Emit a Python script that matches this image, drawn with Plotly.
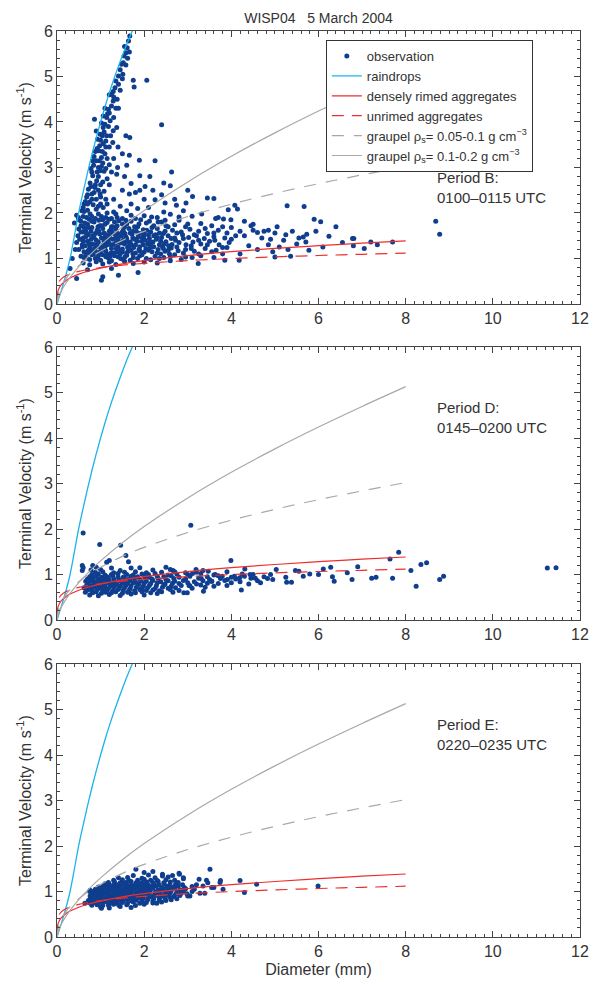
import plotly.graph_objects as go

# ---------------- theoretical curves ----------------
rain_d = [0, 0.1, 0.2, 0.3, 0.4, 0.5, 0.6, 0.7, 0.8, 0.9, 1.0, 1.1, 1.2, 1.3, 1.4, 1.5, 1.6, 1.7, 1.8]
rain_v = [0, 0.3, 0.62, 1.0, 1.5, 2.02, 2.46, 2.88, 3.28, 3.65, 4.0, 4.33, 4.64, 4.93, 5.2, 5.46, 5.71, 5.94, 6.16]

rimed_d = [0, 0.02, 0.05, 0.1, 0.2, 0.3, 0.5, 0.75, 1, 1.5, 2, 3, 4, 5, 6, 7, 8]
rimed_v = [0, 0.275, 0.352, 0.424, 0.511, 0.571, 0.655, 0.731, 0.79, 0.882, 0.953, 1.063, 1.149, 1.22, 1.281, 1.336, 1.385]

unrimed_d = [0.05, 0.1, 0.2, 0.3, 0.5, 0.75, 1, 1.5, 2, 3, 4, 5, 6, 7, 8]
unrimed_v = [0.495, 0.553, 0.619, 0.66, 0.716, 0.764, 0.8, 0.854, 0.893, 0.954, 0.998, 1.035, 1.066, 1.092, 1.116]

graupel_lo_d = [0, 0.05, 0.1, 0.2, 0.3, 0.5, 0.75, 1, 1.5, 2, 3, 4, 5, 6, 7, 8]
graupel_lo_v = [0, 0.292, 0.402, 0.553, 0.667, 0.843, 1.016, 1.16, 1.398, 1.595, 1.923, 2.193, 2.432, 2.644, 2.838, 3.02]

graupel_hi_d = [0, 0.05, 0.1, 0.2, 0.3, 0.5, 0.75, 1, 1.5, 2, 3, 4, 5, 6, 7, 8]
graupel_hi_v = [0, 0.18, 0.284, 0.449, 0.587, 0.823, 1.075, 1.3, 1.699, 2.054, 2.683, 3.247, 3.761, 4.241, 4.694, 5.129]

# ---------------- observations: (diameter mm, velocity m/s) ----------------
obs_b = [
    (1.67,5.89),(1.64,5.78),(1.61,5.63),(1.58,5.52),(1.66,5.54),(1.54,5.45),(1.55,5.66),(1.48,5.27),(1.45,5.15),(1.51,5.05),
    (1.41,5.01),(1.35,4.9),(1.41,4.83),(1.33,4.75),(1.2,4.6),(1.29,4.67),(1.25,4.61),(1.38,4.5),(1.29,4.46),(1.1,4.3),
    (1.25,4.35),(1.18,4.28),(1.16,4.18),(1.06,4.13),(1.14,4.1),(1.02,3.98),(1.22,4.03),(0.86,4.06),(1.37,3.88),(1.29,3.81),
    (1.06,3.88),(1.18,3.9),(0.99,3.73),(1.08,3.78),(1.14,3.7),(0.93,3.62),(1.12,3.58),(1.06,3.52),(0.98,3.48),(1.2,3.45),
    (0.92,3.42),(0.96,3.37),(1.1,3.3),(0.85,3.24),(1.02,3.22),(0.9,3.15),(1.05,3.1),(0.84,3.05),(0.95,3.0),(1.12,2.98),
    (0.8,2.9),(0.99,2.93),(0.82,2.82),(0.95,2.8),(0.91,2.71),(1.05,2.68),(0.76,2.66),(0.87,2.56),(0.72,2.52),(0.95,2.5),
    (0.8,2.42),(0.99,2.42),(0.68,2.35),(0.9,2.3),(1.12,2.3),(0.75,2.24),(0.83,2.18),(0.62,2.2),(1.0,2.2),(1.06,2.12),
    (0.57,2.05),(0.7,2.06),(0.76,1.98),(0.49,1.9),(0.9,2.08),
    (0.9,3.8),(1.0,3.6),(0.88,3.35),(0.82,3.15),(0.78,2.98),(1.08,2.92),(0.88,2.62),(1.0,2.62),(0.7,2.4),(0.85,2.45),
    (1.08,2.48),(0.65,2.25),(0.8,2.3),(0.95,2.15),(0.6,2.12),(0.7,2.2),(1.15,2.2),(1.0,2.35),(0.78,2.58),(0.92,2.9),
    (1.02,3.02),(0.97,3.15),(1.15,3.2),(1.04,3.35),(1.12,3.45),(1.04,3.7),(1.1,3.95),(1.2,4.2),(1.3,4.55),(1.35,4.3),
    (1.45,4.7),(1.5,4.95),(1.58,5.25),(1.62,5.4),(1.52,5.3),(1.3,4.1),(1.23,3.7),(1.28,3.55),(1.4,3.45),(1.5,3.3),
    (1.3,3.2),(1.25,2.9),(1.55,2.8),(1.15,2.75),(1.6,3.05),(1.9,2.5),(2.0,2.3),(2.2,2.5),(1.7,2.65),(1.85,2.1),
    (2.4,2.4),(2.6,2.6),(2.7,2.3),(3.0,2.5),
    (1.75,4.92),(1.77,4.77),(2.06,4.92),(2.4,3.94),(1.41,4.3),(1.58,3.7),(1.67,3.66),(1.66,3.27),(1.89,3.16),(2.25,3.15),
    (2.63,2.9),(1.39,3.0),(1.2,3.06),(1.37,2.85),(1.9,2.82),(2.13,2.8),(2.45,2.66),(1.66,2.42),(2.02,2.58),(1.2,2.62),
    (1.3,2.3),(1.5,2.5),(1.7,2.2),(1.45,2.15),(1.8,2.45),(2.25,2.29),(2.48,2.22),(2.96,2.22),(3.11,2.36),(3.45,2.33),
    (3.6,2.32),(3.32,1.98),(4.08,2.17),(4.14,2.09),(3.64,1.88),(3.82,1.87),(3.99,1.85),(2.74,2.17),(2.9,2.05),(2.8,1.91),
    (2.45,2.02),(2.17,1.91),(2.32,1.8),(2.48,1.84),(5.28,2.16),(5.67,2.14),(3.93,2.07),(1.15,2.0),(1.35,1.98),(1.6,2.05),(2.1,2.12),
    (5.9,1.86),(6.05,1.81),(5.94,1.6),(6.4,1.7),(6.24,1.49),(5.73,1.53),(5.65,1.47),(5.71,1.36),(5.78,1.18),(6.78,1.44),
    (6.81,1.44),(6.8,1.28),(7.05,1.22),(7.2,1.36),(7.7,1.36),(8.69,1.82),(8.78,1.53),
    (4.3,1.5),(4.5,1.62),(4.7,1.45),(5.0,1.56),(5.2,1.4),(5.4,1.6),(5.55,1.45),(4.4,1.28),(4.6,1.2),(4.85,1.3),
    (5.1,1.25),(5.3,1.2),(4.2,1.1),(4.75,1.6),(5.05,1.7),(4.45,1.72),(4.9,1.42),(5.5,1.32),(6.1,1.25),(6.55,1.35),
    (7.35,1.3),(4.95,1.15),(5.25,1.52),
    (0.45,0.56),(1.02,0.52),(1.05,0.6),(1.41,0.63),(1.86,0.69),(3.24,0.89),(3.85,0.96),(4.18,0.96),(5.0,1.03),(5.36,1.05),
    (0.3,0.78),(0.7,0.75),(1.25,0.78),(0.35,1.0),(0.42,1.2),
    (0.45,1.95),(0.62,2.03),(0.8,1.92),(0.95,1.98),(1.12,1.9),(1.3,2.02),(1.5,1.88),(1.7,1.95),(1.92,1.85),(2.6,1.97),
    (3.1,1.93),(3.7,1.9),(4.3,1.82),
    (0.4,1.78),(0.55,1.82),(0.7,1.75),(0.85,1.8),(0.98,1.72),(1.15,1.79),(1.28,1.7),(1.42,1.83),(1.6,1.76),(1.78,1.7),
    (2.05,1.78),(2.22,1.72),(2.4,1.8),(2.7,1.74),(2.95,1.7),(3.3,1.77),(3.55,1.72),(4.0,1.68),(4.5,1.75),
    (0.5,1.65),(0.66,1.6),(0.8,1.68),(0.92,1.62),(1.05,1.66),(1.2,1.6),(1.35,1.64),(1.5,1.58),(1.65,1.66),(1.82,1.6),
    (1.98,1.63),(2.15,1.58),(2.3,1.66),(2.48,1.6),(2.65,1.62),(2.85,1.58),(3.05,1.64),(3.25,1.6),(3.45,1.55),(3.7,1.62),
    (3.9,1.56),(4.2,1.6),(4.6,1.57),(4.85,1.62),
    (0.48,1.5),(0.6,1.45),(0.72,1.52),(0.85,1.46),(0.98,1.54),(1.1,1.47),(1.22,1.52),(1.36,1.45),(1.48,1.5),(1.6,1.44),
    (1.72,1.53),(1.86,1.47),(2.0,1.5),(2.12,1.44),(2.26,1.52),(2.4,1.46),(2.55,1.5),(2.7,1.45),(2.88,1.52),(3.02,1.46),
    (3.2,1.5),(3.38,1.44),(3.6,1.48),(3.85,1.45),(4.1,1.5),
    (0.45,1.35),(0.58,1.3),(0.7,1.38),(0.82,1.32),(0.95,1.36),(1.06,1.3),(1.18,1.37),(1.3,1.31),(1.42,1.38),(1.55,1.32),
    (1.68,1.36),(1.8,1.3),(1.94,1.38),(2.08,1.32),(2.2,1.36),(2.35,1.3),(2.5,1.37),(2.64,1.31),(2.8,1.35),(2.96,1.3),
    (3.12,1.36),(3.3,1.32),(3.5,1.38),(3.72,1.3),(3.95,1.35),
    (0.5,1.2),(0.62,1.15),(0.75,1.22),(0.88,1.16),(1.0,1.24),(1.12,1.17),(1.25,1.22),(1.38,1.15),(1.5,1.21),(1.63,1.16),
    (1.76,1.24),(1.9,1.17),(2.04,1.22),(2.18,1.15),(2.32,1.2),(2.48,1.16),(2.62,1.23),(2.78,1.17),(2.95,1.2),(3.15,1.16),
    (3.4,1.22),(3.65,1.18),(3.9,1.24),
    (0.55,1.05),(0.68,1.0),(0.8,1.08),(0.93,1.02),(1.05,1.08),(1.18,1.01),(1.32,1.06),(1.46,1.0),(1.6,1.07),(1.75,1.02),
    (1.9,1.06),(2.05,1.0),(2.25,1.05),(2.45,1.02),(2.7,1.08),(2.95,1.03),(3.3,1.06),(3.6,1.02),
    (0.6,0.9),(0.75,0.86),(0.9,0.93),(1.05,0.88),(1.2,0.92),(1.35,0.87),(1.55,0.94),(1.75,0.89),(2.0,0.92),(2.3,0.9),(2.6,0.95),
    (0.65,1.28),(0.78,1.42),(0.9,1.25),(1.02,1.45),(1.15,1.3),(1.28,1.42),(1.4,1.25),(1.52,1.4),(1.65,1.27),(1.78,1.42),
    (1.9,1.26),(2.02,1.4),(2.15,1.28),(2.28,1.42),(2.42,1.26),(0.7,1.12),(0.85,1.1),(1.0,1.12),(1.15,1.1),(1.3,1.12),
    (1.45,1.1),(1.6,1.12),(1.8,1.12),(0.72,1.68),(0.88,1.55),(1.02,1.72),(1.25,1.7),(1.4,1.55),(1.55,1.7),(0.6,1.58),
    (0.55,1.72),(0.68,1.9),(1.05,1.85),(1.25,1.88),
    (0.52,1.42),(0.66,1.48),(0.74,1.33),(0.9,1.4),(1.08,1.38),(1.2,1.45),(1.34,1.52),(1.46,1.34),(1.58,1.48),(1.7,1.3),
    (1.84,1.38),(1.96,1.46),(2.1,1.52),(2.22,1.26),(2.38,1.38),(2.56,1.28),(2.72,1.4),(2.9,1.44),(3.08,1.28),(3.25,1.4),
    (3.45,1.3),(3.62,1.4),(3.8,1.24),(4.0,1.42),
    (0.58,1.25),(0.72,1.18),(0.86,1.22),(0.98,1.15),(1.1,1.25),(1.24,1.12),(1.36,1.22),(1.5,1.14),(1.62,1.24),(1.74,1.1),
    (1.88,1.2),(2.0,1.14),(2.14,1.24),(2.3,1.12),(2.44,1.22),(2.58,1.1),(2.75,1.25),(2.9,1.12),(3.08,1.22),(3.25,1.1),
    (3.55,1.15),(3.8,1.1),
    (0.62,1.68),(0.78,1.6),(0.94,1.7),(1.08,1.56),(1.24,1.64),(1.38,1.72),(1.52,1.62),(1.68,1.56),(1.85,1.7),(2.0,1.56),
    (2.18,1.68),(2.35,1.56),(2.55,1.7),(2.75,1.56),(3.0,1.76),(3.15,1.52),(3.4,1.66),(3.6,1.56),(3.8,1.7),
    (0.5,1.85),(0.6,1.92),(0.74,1.86),(0.88,1.88),(1.02,1.92),(1.2,1.86),(1.38,1.9),(1.58,1.84),(1.8,1.88),(2.0,1.94),
    (2.3,1.9),(2.8,1.84),
    (0.62,1.02),(0.75,0.98),(0.88,1.0),(1.0,0.96),(1.12,1.04),(1.25,0.95),(1.4,1.04),(1.52,0.98),(1.68,0.96),(1.85,1.0),
    (2.15,0.97),(2.35,1.0),(2.6,1.04),(2.85,0.98),(3.1,1.02),
    (0.55,1.58),(0.68,1.55),(0.82,1.5),(0.96,1.6),(1.12,1.52),(1.26,1.58),(1.42,1.48),(1.56,1.55),(1.74,1.6),(1.9,1.55),
    (2.06,1.62),(2.22,1.5),(2.44,1.55),
    (0.6,1.38),(0.76,1.28),(0.92,1.32),(1.12,1.4),(1.24,1.3),(1.36,1.35),(1.6,1.36),(1.74,1.45),(1.98,1.3),(2.12,1.36),
    (2.3,1.46),(2.46,1.32),(2.62,1.44),
    (0.64,1.78),(0.8,1.82),(0.96,1.84),(1.1,1.75),(1.32,1.8),(1.5,1.76),(1.7,1.82),(1.88,1.76),(2.12,1.82),(2.5,1.72),
    (0.66,1.1),(0.8,1.15),(0.95,1.06),(1.08,1.2),(1.22,1.05),(1.4,1.18),(1.56,1.04),(1.7,1.18),(1.95,1.08),(2.1,1.18),
    (2.38,1.1),(2.55,1.18),
]

obs_d = [
    (0.6,1.91),(0.98,1.66),(1.46,1.64),(1.58,1.42),(1.64,1.28),(3.07,2.08),(1.2,1.31),(1.14,1.27),(0.58,1.2),(0.58,1.09),
    (3.99,1.31),(7.64,1.34),(7.84,1.49),(8.12,1.09),(8.24,0.74),(8.35,1.22),(8.48,1.26),(7.7,0.92),(8.78,0.89),(8.87,0.96),
    (11.25,1.14),(11.45,1.15),(6.9,1.17),(7.22,0.92),(7.32,0.94),(6.77,0.89),(6.66,1.04),(6.32,0.95),(6.36,0.85),(6.11,1.12),
    (6.28,1.16),(6.0,1.0),(5.8,1.01),(5.65,0.96),(5.47,1.09),(5.55,1.07),(5.38,0.83),(5.25,0.94),(5.27,0.83),(5.03,1.11),
    (4.9,1.0),(4.83,0.91),(4.67,0.82),(4.55,0.92),(4.43,1.0),(4.31,1.12),(4.23,0.66),(4.19,0.93),(4.07,0.96),(3.91,0.89),
    (3.79,0.96),(3.63,1.0),(3.55,0.85),(3.36,0.63),(3.47,1.07),(3.31,0.91),(3.19,1.11),(3.11,1.02),(2.99,0.6),(2.91,0.6),
    (3.03,0.76),(2.66,0.61),(2.66,1.09),(1.7,1.14),(0.82,1.2),
    (0.75,0.55),(0.95,0.53),(1.2,0.56),(1.45,0.54),(1.7,0.57),(2.0,0.55),(2.3,0.58),
    (0.65,0.61),(0.82,0.6),(0.9,0.62),(1.02,0.59),(1.12,0.61),(1.25,0.6),(1.35,0.62),(1.5,0.59),(1.62,0.61),(1.8,0.6),
    (1.95,0.62),(2.15,0.6),(2.4,0.62),
    (0.7,0.66),(0.8,0.64),(0.92,0.67),(1.05,0.65),(1.15,0.66),(1.28,0.64),(1.4,0.67),(1.52,0.65),(1.66,0.66),(1.78,0.64),
    (1.9,0.67),(2.05,0.65),(2.2,0.66),(2.35,0.64),(2.6,0.67),(2.8,0.65),
    (0.62,0.71),(0.75,0.7),(0.85,0.72),(0.97,0.7),(1.08,0.71),(1.18,0.69),(1.3,0.72),(1.42,0.7),(1.55,0.71),(1.68,0.69),
    (1.82,0.72),(1.95,0.7),(2.08,0.71),(2.25,0.69),(2.42,0.72),(2.55,0.7),(2.72,0.71),(3.1,0.7),(3.4,0.72),
    (0.68,0.76),(0.8,0.75),(0.9,0.77),(1.0,0.74),(1.1,0.76),(1.22,0.75),(1.33,0.77),(1.45,0.74),(1.58,0.76),(1.7,0.75),
    (1.85,0.77),(1.98,0.74),(2.12,0.76),(2.28,0.75),(2.45,0.77),(2.62,0.74),(2.85,0.76),(3.05,0.75),(3.3,0.77),(3.6,0.74),(3.9,0.76),
    (0.72,0.8),(0.85,0.81),(0.95,0.79),(1.05,0.8),(1.15,0.82),(1.25,0.8),(1.38,0.79),(1.5,0.81),(1.62,0.8),(1.75,0.82),
    (1.88,0.79),(2.0,0.81),(2.15,0.8),(2.3,0.82),(2.48,0.79),(2.65,0.81),(2.8,0.8),(3.0,0.82),(3.2,0.79),(3.45,0.81),
    (3.7,0.8),(4.0,0.82),(4.4,0.79),
    (0.66,0.85),(0.78,0.86),(0.88,0.84),(1.0,0.85),(1.12,0.87),(1.2,0.85),(1.32,0.84),(1.44,0.86),(1.56,0.85),(1.68,0.87),
    (1.8,0.84),(1.92,0.86),(2.05,0.85),(2.2,0.87),(2.38,0.84),(2.55,0.86),(2.7,0.85),(2.9,0.87),(3.15,0.84),(3.35,0.86),
    (3.55,0.85),(3.85,0.87),(4.2,0.84),(4.6,0.86),
    (0.7,0.9),(0.83,0.91),(0.95,0.89),(1.08,0.9),(1.18,0.92),(1.3,0.9),(1.42,0.89),(1.55,0.91),(1.65,0.9),(1.78,0.92),
    (1.9,0.89),(2.02,0.91),(2.18,0.9),(2.32,0.92),(2.5,0.89),(2.68,0.91),(2.95,0.9),(3.25,0.92),(3.5,0.89),(3.75,0.91),
    (4.1,0.9),(4.45,0.92),(4.95,0.89),
    (0.75,0.95),(0.9,0.96),(1.02,0.94),(1.15,0.95),(1.28,0.97),(1.4,0.95),(1.52,0.94),(1.7,0.96),(1.85,0.95),(2.0,0.97),
    (2.12,0.94),(2.3,0.96),(2.45,0.95),(2.62,0.97),(2.8,0.94),(3.05,0.96),(3.45,0.95),(3.7,0.97),(4.0,0.94),(4.3,0.96),(4.75,0.95),
    (0.8,1.0),(0.95,1.01),(1.1,0.99),(1.25,1.0),(1.4,1.02),(1.6,1.0),(1.75,0.99),(1.95,1.01),(2.1,1.0),(2.25,1.02),
    (2.55,0.99),(2.75,1.01),(3.0,1.0),(3.3,1.02),(3.6,0.99),(4.25,1.01),(4.5,1.0),
    (0.88,1.05),(1.05,1.06),(1.3,1.04),(1.55,1.05),(1.8,1.06),(2.05,1.04),(2.4,1.05),(2.7,1.06),(2.95,1.04),(3.2,1.05),(3.9,1.06),
    (0.78,1.1),(1.0,1.11),(1.45,1.09),(2.2,1.1),(2.6,1.11),(3.35,1.09),(0.6,1.15),(0.9,1.16),(1.25,1.14),(1.9,1.15),(2.5,1.16),
]

obs_e = [
    (1.81,1.49),(3.51,1.49),(4.2,1.24),(4.58,1.16),(4.3,0.98),(5.99,1.12),(3.75,1.24),(3.81,1.05),(3.43,1.25),(3.26,1.27),
    (3.55,1.09),(3.6,1.09),(3.39,0.96),(3.28,0.96),(3.05,0.9),(2.81,1.38),(2.9,1.28),(0.76,1.03),(0.64,0.74),(1.02,0.63),
    (2.42,1.38),(2.8,1.4),(1.1,1.17),(0.75,1.0),(3.2,1.15),(3.15,1.05),(3.35,1.12),(2.0,1.42),(2.2,1.44),(3.46,1.19),(3.74,1.2),
    (1.0,0.66),(1.2,0.64),(1.45,0.67),(1.7,0.65),
    (0.8,0.7),(0.92,0.71),(1.05,0.69),(1.18,0.7),(1.3,0.72),(1.42,0.7),(1.6,0.71),(1.8,0.69),(2.0,0.72),
    (0.75,0.75),(0.85,0.76),(0.95,0.74),(1.05,0.75),(1.15,0.77),(1.25,0.75),(1.38,0.74),(1.5,0.76),(1.62,0.75),(1.75,0.77),
    (1.9,0.74),(2.05,0.76),(2.2,0.75),(2.29,0.74),(2.4,0.77),
    (0.72,0.8),(0.82,0.81),(0.92,0.79),(1.02,0.8),(1.12,0.82),(1.22,0.8),(1.32,0.79),(1.42,0.81),(1.52,0.8),(1.62,0.82),
    (1.72,0.79),(1.82,0.81),(1.95,0.8),(2.08,0.82),(2.2,0.79),(2.35,0.81),(2.5,0.8),(2.62,0.82),
    (0.78,0.85),(0.88,0.86),(0.98,0.84),(1.08,0.85),(1.18,0.87),(1.28,0.85),(1.38,0.84),(1.48,0.86),(1.58,0.85),(1.68,0.87),
    (1.78,0.84),(1.88,0.86),(1.98,0.85),(2.1,0.87),(2.22,0.84),(2.35,0.86),(2.48,0.85),(2.6,0.87),(2.75,0.84),
    (0.76,0.9),(0.86,0.91),(0.96,0.89),(1.06,0.9),(1.16,0.92),(1.26,0.9),(1.36,0.89),(1.46,0.91),(1.56,0.9),(1.66,0.92),
    (1.76,0.89),(1.86,0.91),(1.96,0.9),(2.06,0.92),(2.18,0.89),(2.3,0.91),(2.42,0.9),(2.55,0.92),(2.68,0.89),(2.82,0.91),(3.0,0.9),
    (0.8,0.95),(0.9,0.96),(1.0,0.94),(1.1,0.95),(1.2,0.97),(1.3,0.95),(1.4,0.94),(1.5,0.96),(1.6,0.95),(1.7,0.97),
    (1.8,0.94),(1.9,0.96),(2.0,0.95),(2.12,0.97),(2.24,0.94),(2.36,0.96),(2.48,0.95),(2.6,0.97),(2.72,0.94),(2.85,0.96),(2.98,0.95),
    (0.82,1.0),(0.92,1.01),(1.02,0.99),(1.12,1.0),(1.22,1.02),(1.32,1.0),(1.42,0.99),(1.52,1.01),(1.62,1.0),(1.72,1.02),
    (1.82,0.99),(1.92,1.01),(2.02,1.0),(2.14,1.02),(2.26,0.99),(2.38,1.01),(2.5,1.0),(2.62,1.02),(2.75,0.99),(2.9,1.01),(3.1,1.0),
    (0.88,1.05),(0.98,1.06),(1.08,1.04),(1.18,1.05),(1.28,1.07),(1.38,1.05),(1.48,1.04),(1.58,1.06),(1.68,1.05),(1.78,1.07),
    (1.88,1.04),(1.98,1.06),(2.08,1.05),(2.2,1.07),(2.32,1.04),(2.44,1.06),(2.56,1.05),(2.7,1.07),(2.82,1.04),(2.95,1.06),
    (0.95,1.1),(1.05,1.11),(1.15,1.09),(1.25,1.1),(1.35,1.12),(1.45,1.1),(1.55,1.09),(1.65,1.11),(1.75,1.1),(1.85,1.12),
    (1.95,1.09),(2.05,1.11),(2.15,1.1),(2.27,1.12),(2.4,1.09),(2.52,1.11),(2.65,1.1),(2.78,1.12),(2.92,1.09),(3.1,1.11),
    (1.1,1.15),(1.2,1.16),(1.3,1.14),(1.4,1.15),(1.5,1.17),(1.6,1.15),(1.7,1.14),(1.8,1.16),(1.9,1.15),(2.0,1.17),
    (2.1,1.14),(2.22,1.16),(2.34,1.15),(2.46,1.17),(2.58,1.14),(2.72,1.16),(2.88,1.15),
    (1.18,1.2),(1.32,1.21),(1.45,1.19),(1.58,1.2),(1.7,1.22),(1.82,1.2),(1.94,1.19),(2.06,1.21),(2.2,1.2),(2.32,1.22),
    (2.45,1.19),(2.6,1.21),(2.78,1.2),
    (1.3,1.25),(1.5,1.26),(1.65,1.24),(1.85,1.25),(2.0,1.27),(2.15,1.25),(2.3,1.24),(2.5,1.26),(2.7,1.25),
    (1.41,1.3),(1.62,1.31),(1.95,1.29),(2.25,1.3),(2.55,1.32),(2.9,1.3),(1.75,1.35),(2.1,1.36),(2.42,1.34),(2.65,1.35),
]

period_labels = ["Period B:<br>0100\u20130115 UTC", "Period D:<br>0145\u20130200 UTC", "Period E:<br>0220\u20130235 UTC"]
label_top_v = [3.02, 4.9, 4.9]
x_ticks = [0, 2, 4, 6, 8, 10, 12]
y_ticks = [0, 1, 2, 3, 4, 5, 6]

# ---------------- styling ----------------
DOT = "#0f3e8f"
CYAN = "#1db3ea"
RED = "#ee2e2e"
GRAY = "#a8a8a8"
FONT = "Liberation Sans, Arial, sans-serif"
TXT = "#333333"

fig = go.Figure()
panels = [obs_b, obs_d, obs_e]
domains = [(0.6987, 1.0), (0.3499, 0.6512), (0.0, 0.3013)]

for i, obs in enumerate(panels):
    n = "" if i == 0 else str(i + 1)
    xa, ya = "x" + n, "y" + n
    first = i == 0
    fig.add_trace(go.Scatter(x=[p[0] for p in obs], y=[p[1] for p in obs], mode="markers",
                             marker=dict(color=DOT, size=5, line=dict(width=0)),
                             name="observation", showlegend=first, xaxis=xa, yaxis=ya))
    fig.add_trace(go.Scatter(x=rain_d, y=rain_v, mode="lines", line=dict(color=CYAN, width=1.3, shape="spline"),
                             name="raindrops", showlegend=first, xaxis=xa, yaxis=ya))
    fig.add_trace(go.Scatter(x=rimed_d, y=rimed_v, mode="lines", line=dict(color=RED, width=1.2, shape="spline"),
                             name="densely rimed aggregates", showlegend=first, xaxis=xa, yaxis=ya))
    fig.add_trace(go.Scatter(x=unrimed_d, y=unrimed_v, mode="lines",
                             line=dict(color=RED, width=1.2, shape="spline", dash="12px,8px"),
                             name="unrimed aggregates", showlegend=first, xaxis=xa, yaxis=ya))
    fig.add_trace(go.Scatter(x=graupel_lo_d, y=graupel_lo_v, mode="lines",
                             line=dict(color=GRAY, width=1.2, shape="spline", dash="12px,10px"),
                             name="graupel \u03c1<sub>s</sub>= 0.05-0.1 g cm<sup>\u22123</sup>", showlegend=first,
                             xaxis=xa, yaxis=ya))
    fig.add_trace(go.Scatter(x=graupel_hi_d, y=graupel_hi_v, mode="lines", line=dict(color=GRAY, width=1.2, shape="spline"),
                             name="graupel \u03c1<sub>s</sub>= 0.1-0.2 g cm<sup>\u22123</sup>", showlegend=first,
                             xaxis=xa, yaxis=ya))

    axis_common = dict(showgrid=False, zeroline=False, showline=True, linecolor="#444", linewidth=1,
                       mirror="allticks", ticks="inside", ticklen=6, tickcolor="#444", automargin=False,
                       tickfont=dict(size=16, color=TXT, family=FONT),
                       minor=dict(ticks="inside", ticklen=3, dtick=0.2, tickcolor="#444"))
    fig.layout["xaxis" + n] = dict(axis_common, range=[0, 12], tickvals=x_ticks, domain=[0, 1], anchor=ya,
                                   title=dict(text="Diameter (mm)", font=dict(size=16, color=TXT, family=FONT),
                                              standoff=4) if i == 2 else None)
    fig.layout["yaxis" + n] = dict(axis_common, range=[0, 6], tickvals=y_ticks, domain=list(domains[i]), anchor=xa,
                                   title=dict(text="Terminal Velocity (m s<sup>-1</sup>)",
                                              font=dict(size=16, color=TXT, family=FONT), standoff=8))
    fig.add_annotation(x=8.67, y=label_top_v[i], xref=xa, yref=ya, text=period_labels[i], showarrow=False,
                       xanchor="left", yanchor="top", align="left", font=dict(size=15, color=TXT, family=FONT))

# the page body adds an 8 px offset, so the figure is laid out 8 px smaller
fig.update_layout(
    width=589, height=976,
    margin=dict(l=49, r=17, t=23, b=47),
    paper_bgcolor="white", plot_bgcolor="white",
    title=dict(text="WISP04   5 March 2004", x=0.5, xref="paper", y=0.9893, yanchor="middle",
               font=dict(size=14, color=TXT, family=FONT)),
    legend=dict(x=0.514, y=0.99, xanchor="left", yanchor="top", bgcolor="white", bordercolor="#333",
                borderwidth=1, font=dict(size=13, color=TXT, family=FONT), itemwidth=30,
                tracegroupgap=0),
    showlegend=True,
)

fig.write_html("out.html")
